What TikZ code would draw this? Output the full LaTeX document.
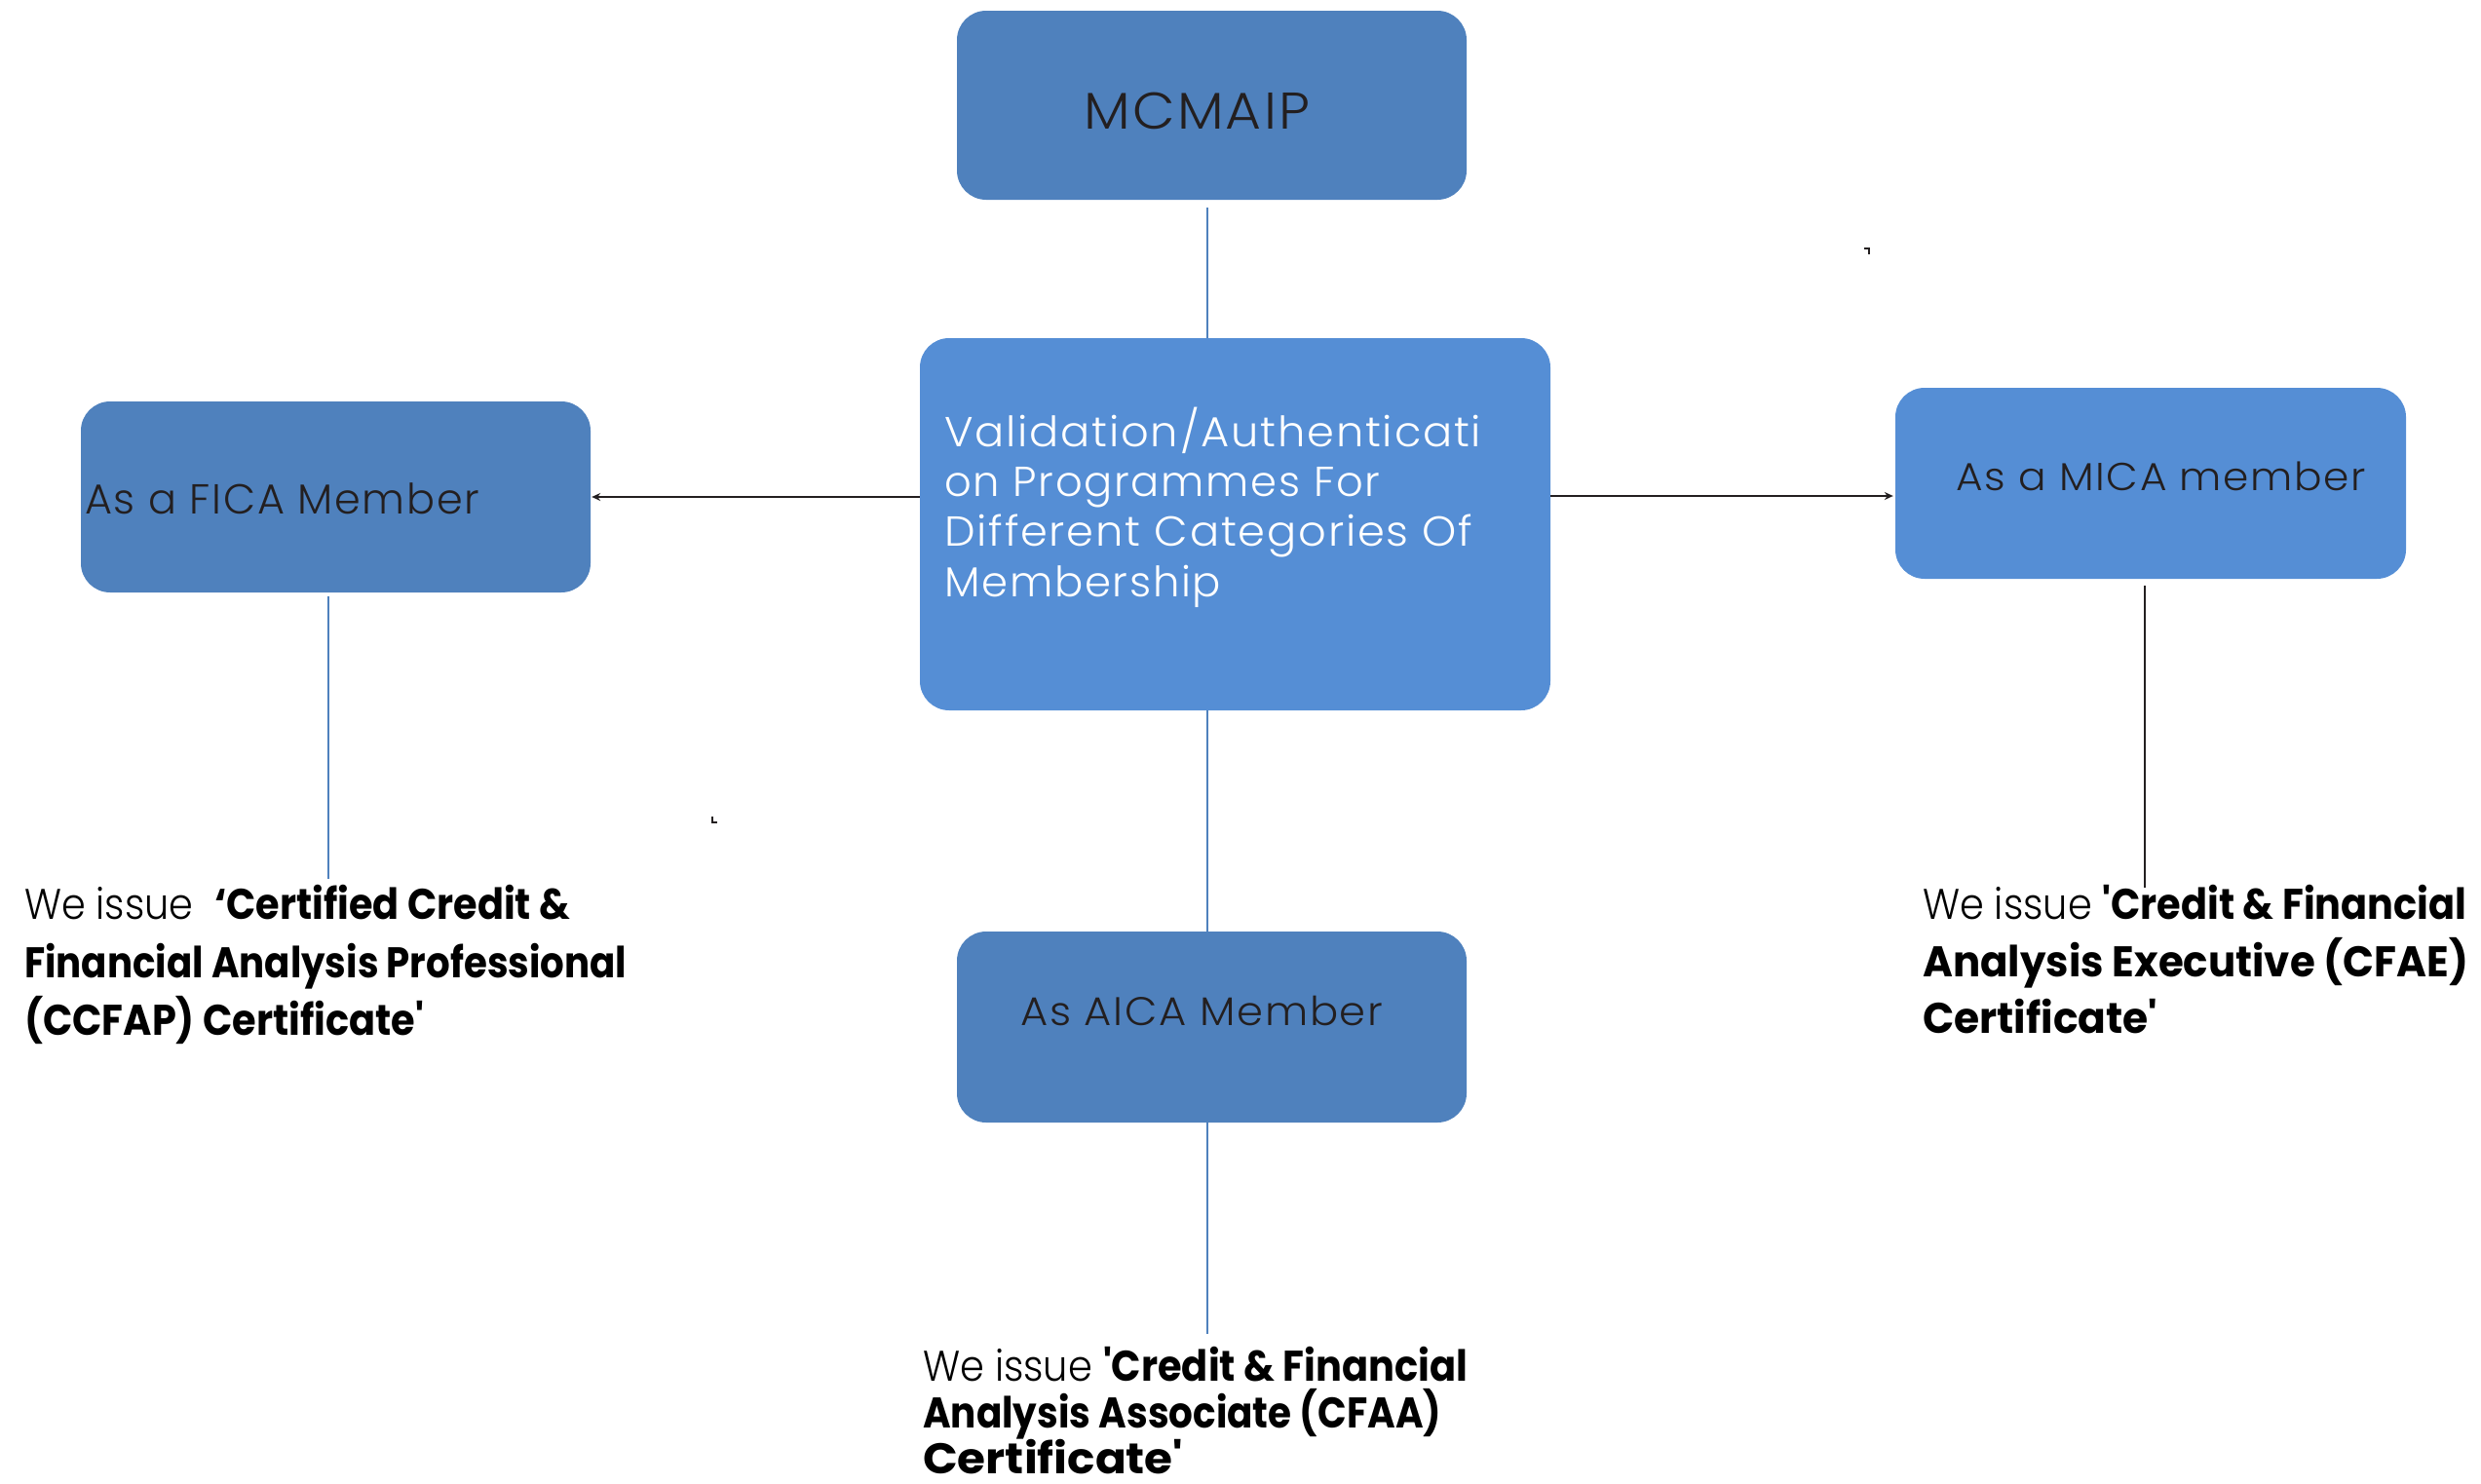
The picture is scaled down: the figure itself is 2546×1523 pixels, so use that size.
\documentclass[tikz,border=0pt]{standalone}
\usepackage{fontspec}
\usepackage{graphicx}
\setmainfont{Poppins}
\newfontfamily\plight{Poppins Light}[LetterSpace=4]
\newfontfamily\blight{Poppins Light}
\newfontfamily\bbold{Poppins}[UprightFont=* Bold]
\usetikzlibrary{arrows.meta,calc}
\definecolor{boxA}{HTML}{4F81BD}
\definecolor{boxB}{HTML}{558ED5}
\definecolor{ink}{HTML}{231F20}
\newcommand{\fitline}[2]{\resizebox{#1pt}{\height}{#2}}
\tikzset{
  card/.style={rounded corners=30pt, inner sep=0pt, draw=none},
  cardA/.style={card, fill=boxA},
  cardB/.style={card, fill=boxB},
  txt/.style={inner sep=0pt, anchor=base west},
  blueline/.style={draw=boxA, line width=2pt},
  blackline/.style={draw=ink, line width=2pt},
  arr/.style={draw=ink, line width=2.5pt, -{Stealth[length=9pt,width=8pt]}}
}
\begin{document}
\begin{tikzpicture}[x=1pt,y=-1pt]
\useasboundingbox (0,0) rectangle (2546,1523);
% boxes
\node[cardA, minimum width=523pt, minimum height=194pt] (mcmaip) at (1243.5,108) {};
\node[cardB, minimum width=647pt, minimum height=382pt] (center) at (1267.5,538) {};
\node[cardA, minimum width=523pt, minimum height=196pt] (fica) at (344.5,510) {};
\node[cardB, minimum width=524pt, minimum height=196pt] (mica) at (2207,496) {};
\node[cardA, minimum width=523pt, minimum height=196pt] (aica) at (1243.5,1054) {};
% helper coordinates for the line positions
\coordinate (cx) at (1239,0);
\coordinate (fx) at (337,0);
\coordinate (mx) at (2201,0);
% box texts
\node[txt, text=ink] (tmc) at (1112,132) {\plight\fontsize{53}{60}\selectfont\fitline{232}{MCMAIP}};
\node[txt, text=white] (tc1) at (969,458) {\plight\fontsize{43}{50}\selectfont\fitline{551}{Validation/Authenticati}};
\node[txt, text=white] (tc2) at (969,509) {\plight\fontsize{43}{50}\selectfont\fitline{447}{on Programmes For}};
\node[txt, text=white] (tc3) at (969,560) {\plight\fontsize{43}{50}\selectfont\fitline{542}{Different Categories Of}};
\node[txt, text=white] (tc4) at (969,612) {\plight\fontsize{43}{50}\selectfont\fitline{284}{Membership}};
\node[txt, text=ink] (tfica) at (87,527) {\plight\fontsize{43}{50}\selectfont\fitline{405}{As a FICA Member}};
\node[txt, text=ink] (tmica) at (2007,503) {\plight\fontsize{40}{48}\selectfont\fitline{421}{As a MICA member}};
\node[txt, text=ink] (taica) at (1047,1052) {\plight\fontsize{41}{48}\selectfont\fitline{372}{As AICA Member}};
% certificate texts
\node[txt] (l1) at (25,943) {\fontsize{44}{50}\selectfont\fitline{560}{\blight We issue\ \ \bbold ‘Certified Credit \&}};
\node[txt] (l2) at (25,1003) {\fontsize{44}{50}\selectfont\fitline{618}{\bbold Financial Analysis Professional}};
\node[txt] (l3) at (25,1062) {\fontsize{44}{50}\selectfont\fitline{410}{\bbold (CCFAP) Certificate'}};
\node[txt] (r1) at (1973,943) {\fontsize{44}{50}\selectfont\fitline{558}{\blight We issue \bbold 'Credit \& Financial}};
\node[txt] (r2) at (1973,1002) {\fontsize{44}{50}\selectfont\fitline{560}{\bbold Analysis Executive (CFAE)}};
\node[txt] (r3) at (1973,1060) {\fontsize{44}{50}\selectfont\fitline{241}{\bbold Certificate'}};
\node[txt] (b1) at (947,1417) {\fontsize{44}{50}\selectfont\fitline{559}{\blight We issue \bbold 'Credit \& Financial}};
\node[txt] (b2) at (947,1465) {\fontsize{44}{50}\selectfont\fitline{532}{\bbold Analysis Associate (CFAA)}};
\node[txt] (b3) at (947,1512) {\fontsize{44}{50}\selectfont\fitline{267}{\bbold Certificate'}};
% connectors
\draw[blueline] ($(mcmaip.south -| cx)+(0,8)$) -- (center.north -| cx);
\draw[blueline] (center.south -| cx) -- ($(aica.north -| cx)+(0,37)$);
\draw[blueline] (aica.south -| cx) -- ++(0,217);
\draw[blueline] ($(fica.south -| fx)+(0,4)$) -- ++(0,290);
\draw[blackline] ($(mica.south -| mx)+(0,7)$) -- ++(0,310);
\draw[arr] ($(center.west)+(0,-28)$) -- ($(fica.east)+(1,0)$);
\draw[arr] ($(center.east)+(0,-29)$) -- ($(mica.west)+(-2,13)$);
% stray marks
\draw[ink, line width=1.5pt] (1913,255) -- (1918,255) -- (1918,261);
\draw[ink, line width=1.5pt] (731,838) -- (731,844) -- (736,844);
\end{tikzpicture}
\end{document}
